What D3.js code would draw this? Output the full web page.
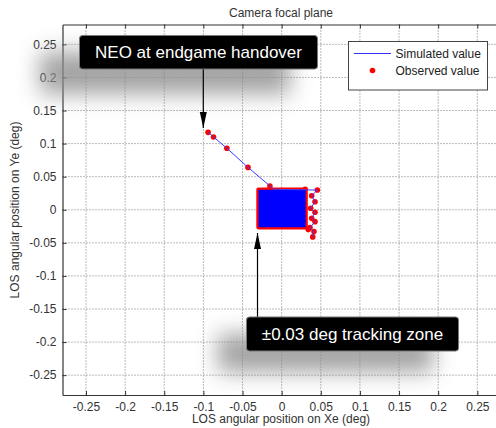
<!DOCTYPE html>
<html><head><meta charset="utf-8">
<script src="https://cdn.jsdelivr.net/npm/d3@7"></script>
<style>
html,body{margin:0;padding:0;background:#fff;}
svg{display:block;font-family:"Liberation Sans",Arial,Helvetica,sans-serif;}
</style></head>
<body>
<svg id="chart" width="496" height="428"></svg>
<script>
// ---- data ----
const titleText = "Camera focal plane";
const xLabel = "LOS angular position on Xe (deg)";
const yLabel = "LOS angular position on Ye (deg)";
const tickValues = [-0.25,-0.2,-0.15,-0.1,-0.05,0,0.05,0.1,0.15,0.2,0.25];
const tickLabels = ["-0.25","-0.2","-0.15","-0.1","-0.05","0","0.05","0.1","0.15","0.2","0.25"];
const domainX = [-0.28, 0.28];
const domainY = [-0.28, 0.28];
// simulated trajectory (approach + exit zig-zag on right side)
const simX = [-0.094,-0.087,-0.070,-0.043,-0.015,-0.010, 0.032, 0.0456,0.0384,0.0426,0.0371,0.0426,0.0384,0.0426,0.0362,0.0413,0.0397];
const simY = [ 0.117, 0.110, 0.093, 0.064, 0.036, 0.031, 0.030, 0.0298,0.0212,0.0122,0.0022,-0.0038,-0.013,-0.018,-0.027,-0.033,-0.041];
// observed points
const obsX = [-0.094,-0.087,-0.070,-0.043,-0.015, 0.0456,0.0384,0.0426,0.0371,0.0426,0.0384,0.0426,0.0362,0.0413,0.0397, 0.030,0.034];
const obsY = [ 0.117, 0.110, 0.093, 0.064, 0.036, 0.0298,0.0212,0.0122,0.0022,-0.0038,-0.013,-0.018,-0.027,-0.033,-0.041, 0.031,-0.030];
// dense tracking cluster bounds (x range, y range)
const clusterX = [-0.031, 0.032];
const clusterY = [-0.028, 0.032];
const legendItems = ["Simulated value","Observed value"];
const callouts = ["NEO at endgame handover","\u00b10.03 deg tracking zone"];

// ---- layout ----
const svg = d3.select("#chart");
const L = 62.5, R = 500.8, T = 24.5, B = 395;
const x = d3.scaleLinear().domain(domainX).range([L, R]);
const y = d3.scaleLinear().domain(domainY).range([B, T]);

const defs = svg.append("defs");
const f = defs.append("filter").attr("id","blur").attr("x","-50%").attr("y","-150%").attr("width","200%").attr("height","400%");
f.append("feGaussianBlur").attr("stdDeviation", 11);
const clip = defs.append("clipPath").attr("id","plotclip");
clip.append("rect").attr("x",L).attr("y",T).attr("width",R-L).attr("height",B-T);

// grid
const grid = svg.append("g");
grid.selectAll("line.gx").data(tickValues).join("line")
  .attr("x1",d=>x(d)).attr("x2",d=>x(d)).attr("y1",T).attr("y2",B)
  .attr("stroke","#777").attr("stroke-width",1).attr("stroke-dasharray","1,2");
grid.selectAll("line.gy").data(tickValues).join("line")
  .attr("y1",d=>y(d)).attr("y2",d=>y(d)).attr("x1",L).attr("x2",R)
  .attr("stroke","#777").attr("stroke-width",1).attr("stroke-dasharray","1,2");

// axes
const xAxis = d3.axisBottom(x).tickValues(tickValues).tickFormat((d,i)=>tickLabels[i]).tickSizeInner(-4).tickSizeOuter(0).tickPadding(7);
const yAxis = d3.axisLeft(y).tickValues(tickValues).tickFormat((d,i)=>tickLabels[i]).tickSizeInner(-4).tickSizeOuter(0).tickPadding(6);
const gx = svg.append("g").attr("transform",`translate(0,${B})`).call(xAxis);
const gy = svg.append("g").attr("transform",`translate(${L},0)`).call(yAxis);
const gxt = svg.append("g").attr("transform",`translate(0,${T})`).call(d3.axisTop(x).tickValues(tickValues).tickFormat("").tickSizeInner(-4).tickSizeOuter(0));
[gx,gy,gxt].forEach(g=>{
  g.selectAll("path").attr("stroke","#333").attr("stroke-width",1.2);
  g.selectAll("line").attr("stroke","#333");
  g.selectAll("text").attr("fill","#333").attr("font-size","12px").attr("font-family","Liberation Sans, Arial, sans-serif");
});

// data marks
const plot = svg.append("g").attr("clip-path","url(#plotclip)");
const obs = obsX.map((v,i)=>({x:v,y:obsY[i]}));
const sim = simX.map((v,i)=>({x:v,y:simY[i]}));
plot.selectAll("circle.obs").data(obs).join("circle")
  .attr("cx",d=>x(d.x)).attr("cy",d=>y(d.y)).attr("r",2.8).attr("fill","#ff0000");
plot.append("rect")
  .attr("x",x(clusterX[0])).attr("y",y(clusterY[1]))
  .attr("width",x(clusterX[1])-x(clusterX[0])).attr("height",y(clusterY[0])-y(clusterY[1]))
  .attr("fill","#0000ff").attr("stroke","#ff0000").attr("stroke-width",2.2).attr("stroke-linejoin","round").attr("rx",1);
plot.append("path").datum(sim)
  .attr("d",d3.line().x(d=>x(d.x)).y(d=>y(d.y)))
  .attr("fill","none").attr("stroke","#3a3aff").attr("stroke-width",1);

// legend
const lg = svg.append("g");
lg.append("rect").attr("x",348.5).attr("y",41.5).attr("width",139).attr("height",48.5).attr("fill","#fff").attr("stroke","#444").attr("stroke-width",1);
lg.append("line").attr("x1",354).attr("x2",391).attr("y1",53.5).attr("y2",53.5).attr("stroke","#3030ff").attr("stroke-width",1.2);
lg.append("circle").attr("cx",372.5).attr("cy",70.5).attr("r",2.8).attr("fill","#ff0000");
lg.selectAll("text").data(legendItems).join("text")
  .attr("x",395.5).attr("y",(d,i)=>57.5+i*17.5).attr("font-size","12px").attr("fill","#222").text(d=>d);

// title and axis labels
svg.append("text").attr("x",281).attr("y",17).attr("text-anchor","middle").attr("font-size","12px").attr("fill","#333").text(titleText);
svg.append("text").attr("x",281).attr("y",423).attr("text-anchor","middle").attr("font-size","12px").attr("fill","#333").text(xLabel);
svg.append("text").attr("transform","translate(19,210) rotate(-90)").attr("text-anchor","middle").attr("font-size","12px").attr("fill","#333").text(yLabel);

// callouts
function callout(box, shadow, arrow, label){
  const g = svg.append("g");
  g.append("rect").attr("x",shadow[0]).attr("y",shadow[1]).attr("width",shadow[2]).attr("height",shadow[3])
    .attr("fill","#8c8c8c").attr("opacity",0.8).attr("filter","url(#blur)");
  g.append("line").attr("x1",arrow[0]).attr("y1",arrow[1]).attr("x2",arrow[0]).attr("y2",arrow[2]).attr("stroke","#000").attr("stroke-width",1.2);
  const dir = arrow[2] > arrow[1] ? 1 : -1;
  const tip = arrow[2], bx = arrow[0];
  g.append("path").attr("d",`M${bx},${tip} L${bx-3.5},${tip-dir*16} L${bx+3.5},${tip-dir*16} Z`).attr("fill","#000");
  g.append("rect").attr("x",box[0]).attr("y",box[1]).attr("width",box[2]).attr("height",box[3]).attr("rx",3)
    .attr("fill","#000").attr("stroke","#777").attr("stroke-width",1);
  g.append("text").attr("x",box[0]+box[2]/2).attr("y",box[1]+box[3]/2+6).attr("text-anchor","middle")
    .attr("font-size","17px").attr("fill","#fff").text(label);
}
callout([79.5,35.5,238,33.5],[40,52,250,42],[203.3,69,128],callouts[0]);
callout([246.5,317,212,34],[218,334,215,38],[257.5,317,233],callouts[1]);
</script>
</body></html>
